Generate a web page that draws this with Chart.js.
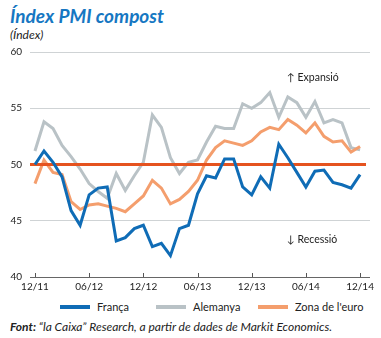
<!DOCTYPE html>
<html>
<head>
<meta charset="utf-8">
<script src="https://cdn.jsdelivr.net/npm/chart.js@4"></script>
<style>
  body { margin: 0; background: #fff; font-family: "Lato", "Noto Sans", sans-serif; }
  #wrap { position: relative; width: 381px; height: 338px; }
  #title { position: absolute; left: 10px; top: 4px; font-size: 19px; font-weight: bold; font-style: italic; color: #1677c2; }
  #sub { position: absolute; left: 10px; top: 27px; font-size: 12px; font-style: italic; color: #222; }
  #box { position: absolute; left: 0; top: 38px; width: 381px; height: 262px; }
  #legend { position: absolute; top: 300px; left: 0; width: 381px; height: 14px; font-size: 11px; color: #222; }
  #legend span { position: absolute; top: 0; line-height: 14px; }
  #legend i { position: absolute; top: 5px; width: 30px; height: 4px; }
  #src { position: absolute; left: 10px; top: 319px; font-size: 12px; font-style: italic; color: #222; }
</style>
</head>
<body>
<div id="wrap">
  <div id="title">Índex PMI compost</div>
  <div id="sub">(Índex)</div>
  <div id="box"><canvas id="pmi"></canvas></div>
  <div id="legend"></div>
  <div id="src"><b>Font:</b> “la Caixa” Research, a partir de dades de Markit Economics.</div>
</div>
<script>
// monthly, 12/11 .. 12/14
const months = [
  "12/11","01/12","02/12","03/12","04/12","05/12","06/12","07/12","08/12","09/12","10/12","11/12",
  "12/12","01/13","02/13","03/13","04/13","05/13","06/13","07/13","08/13","09/13","10/13","11/13",
  "12/13","01/14","02/14","03/14","04/14","05/14","06/14","07/14","08/14","09/14","10/14","11/14",
  "12/14"
];
const tickLabels = ["12/11", "06/12", "12/12", "06/13", "12/13", "06/14", "12/14"];

const franca = [
  50.0, 51.2, 50.2, 48.9, 45.9, 44.6, 47.3, 47.9, 48.0, 43.2, 43.5, 44.3,
  44.6, 42.7, 43.0, 41.9, 44.3, 44.6, 47.4, 49.0, 48.8, 50.5, 50.5, 48.0,
  47.3, 48.9, 47.9, 51.8, 50.6, 49.3, 48.0, 49.4, 49.5, 48.4, 48.2, 47.9,
  49.1
];
const alemanya = [
  51.2, 53.8, 53.2, 51.7, 50.7, 49.6, 48.3, 47.6, 47.0, 49.2, 47.7, 49.0,
  50.2, 54.4, 53.3, 50.6, 49.2, 50.2, 50.4, 52.0, 53.4, 53.2, 53.2, 55.4,
  55.0, 55.5, 56.4, 54.2, 56.0, 55.5, 54.2, 55.6, 53.7, 54.0, 53.7, 51.5,
  51.3
];
const zonaEuro = [
  48.3, 50.4, 49.3, 49.1, 46.7, 46.0, 46.4, 46.5, 46.3, 46.1, 45.8, 46.5,
  47.2, 48.6, 47.9, 46.5, 46.9, 47.6, 48.6, 50.4, 51.5, 52.1, 51.9, 51.7,
  52.1, 52.9, 53.3, 53.1, 54.0, 53.5, 52.8, 53.7, 52.5, 52.0, 52.1, 51.1,
  51.6
];
const threshold = 50;

const series = [
  { label: "França", data: franca, color: "#0f6cb6", order: 0, lx: 60 },
  { label: "Alemanya", data: alemanya, color: "#b9c2c6", order: 2, lx: 156 },
  { label: "Zona de l'euro", data: zonaEuro, color: "#f49e6d", order: 1, lx: 258 }
];

const pts = arr => arr.map((v, i) => ({ x: i, y: v }));

// red 50 line goes between the two background series and França
const extras = {
  id: "extras",
  afterDatasetDraw(chart, args) {
    if (args.index !== 2) return;
    const { ctx, chartArea, scales } = chart;
    const y = scales.y.getPixelForValue(threshold);
    ctx.save();
    ctx.strokeStyle = "#e5531f";
    ctx.lineWidth = 3;
    ctx.beginPath();
    ctx.moveTo(chartArea.left, y);
    ctx.lineTo(chartArea.right - 4, y);
    ctx.stroke();
    ctx.restore();
  },
  afterDraw(chart) {
    const { ctx, scales } = chart;
    const x = scales.x, y = scales.y;
    const base = y.getPixelForValue(40);
    ctx.save();
    // small tick marks standing on the bottom axis
    ctx.strokeStyle = "#555";
    ctx.lineWidth = 1;
    for (let i = 0; i < months.length; i += 6) {
      const px = Math.round(x.getPixelForValue(i)) + 0.5;
      ctx.beginPath();
      ctx.moveTo(px, base);
      ctx.lineTo(px, base - 4);
      ctx.stroke();
    }
    ctx.fillStyle = "#222";
    ctx.font = "10.5px Lato, 'Noto Sans', sans-serif";
    ctx.textBaseline = "middle";
    ctx.fillText("↑ Expansió", x.getPixelForValue(27.9), y.getPixelForValue(57.7));
    ctx.fillText("↓ Recessió", x.getPixelForValue(27.9), y.getPixelForValue(43.3));
    ctx.restore();
  }
};

new Chart(document.getElementById("pmi"), {
  type: "line",
  data: {
    datasets: series.map(s => ({
      label: s.label,
      data: pts(s.data),
      borderColor: s.color,
      backgroundColor: s.color,
      borderWidth: 3,
      order: s.order
    }))
  },
  options: {
    responsive: true,
    maintainAspectRatio: false,
    animation: false,
    elements: { point: { radius: 0 }, line: { tension: 0, borderJoinStyle: "miter" } },
    layout: { padding: { top: 1, right: 11, bottom: 3, left: 0 } },
    scales: {
      x: {
        type: "linear",
        min: -0.55,
        max: 37.1,
        afterBuildTicks: s => { s.ticks = tickLabels.map((_, k) => ({ value: k * 6 })); },
        ticks: {
          callback: v => tickLabels[v / 6],
          color: "#222",
          font: { size: 10, family: "Lato, 'Noto Sans', sans-serif" },
          padding: 4,
          maxRotation: 0,
          autoSkip: false
        },
        grid: { display: false, drawTicks: false },
        border: { display: false }
      },
      y: {
        min: 40,
        max: 60,
        afterFit: s => { s.width = 30; },
        ticks: {
          stepSize: 5,
          color: "#222",
          font: { size: 10, family: "Lato, 'Noto Sans', sans-serif" },
          padding: 8
        },
        grid: {
          drawTicks: false,
          color: c => c.tick.value === 40 ? "#666" : (c.tick.value === 50 ? "rgba(0,0,0,0)" : "#cfd3d5"),
          lineWidth: 1
        },
        border: { display: false }
      }
    },
    plugins: {
      legend: { display: false },
      tooltip: { enabled: false }
    }
  },
  plugins: [extras]
});

// legend row under the axis
const legend = document.getElementById("legend");
series.forEach(s => {
  legend.insertAdjacentHTML("beforeend",
    `<i style="left:${s.lx}px;background:${s.color}"></i><span style="left:${s.lx + 37}px">${s.label}</span>`);
});
</script>
</body>
</html>
